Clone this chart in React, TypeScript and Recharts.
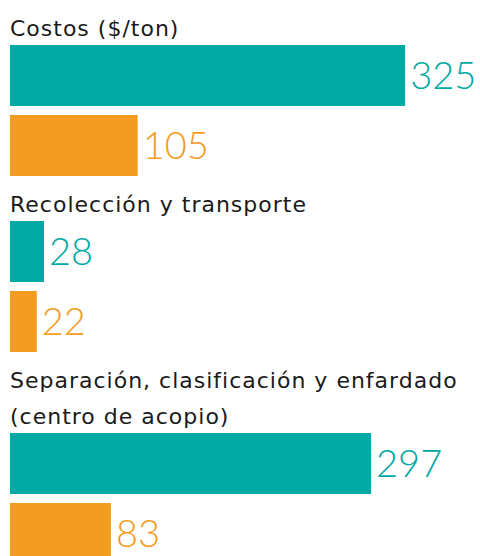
import React from 'react';
import { BarChart, Bar, XAxis, YAxis, Cell } from 'recharts';

// Datos de la gráfica
const etapas = [
  'Costos ($/ton)',
  'Recolección y transporte',
  'Separación, clasificación y enfardado (centro de acopio)',
];
const serieA = [325, 28, 297];
const serieB = [105, 22, 83];

const TEAL = '#00A9A4';
const NARANJA = '#F39C21';
const colores = [TEAL, NARANJA];

const ValorLabel = (props: any) => {
  const { x, y, width, height, value, index } = props;
  return (
    <text
      x={x + width + 5}
      y={y + height / 2}
      dy="0.36em"
      fill={colores[index]}
      fontFamily="Lato"
      fontWeight={300}
      fontSize={38}
    >
      {value}
    </text>
  );
};

function Grupo({ titulo, a, b, primero }: { titulo: string; a: number; b: number; primero: boolean }) {
  const data = [
    { nombre: 'a', valor: a },
    { nombre: 'b', valor: b },
  ];
  return (
    <div>
      <div
        style={{
          marginTop: primero ? 11 : 7,
          marginLeft: 10,
          width: 465,
          fontFamily: '"DejaVu Sans"',
          fontSize: 22,
          letterSpacing: 1,
          lineHeight: '36px',
          color: '#1a1a1a',
        }}
      >
        {titulo}
      </div>
      <div style={{ marginTop: -7 }}>
        <BarChart
          width={480}
          height={140}
          layout="vertical"
          data={data}
          margin={{ top: 0, right: 8, bottom: 0, left: 10 }}
        >
          <XAxis type="number" domain={[0, 380]} hide />
          <YAxis type="category" dataKey="nombre" hide width={0} />
          <Bar dataKey="valor" barSize={61} isAnimationActive={false} label={<ValorLabel />}>
            {data.map((d, i) => (
              <Cell key={d.nombre} fill={colores[i]} />
            ))}
          </Bar>
        </BarChart>
      </div>
    </div>
  );
}

export default function App() {
  return (
    <div
      style={{
        position: 'absolute',
        top: 0,
        left: 0,
        width: 480,
        height: 556,
        overflow: 'hidden',
        background: '#fff',
      }}
    >
      {etapas.map((t, i) => (
        <Grupo key={t} titulo={t} a={serieA[i]} b={serieB[i]} primero={i === 0} />
      ))}
    </div>
  );
}
